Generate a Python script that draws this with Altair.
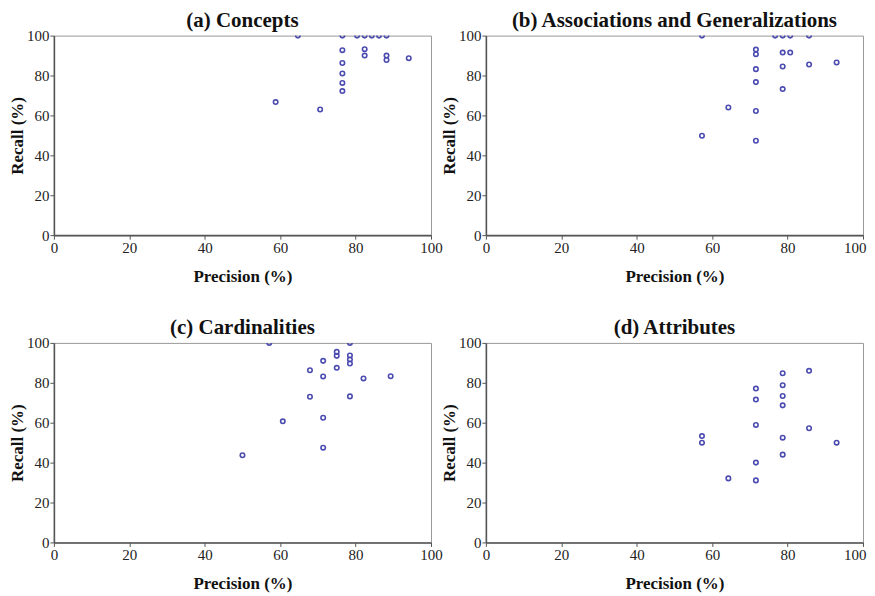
import altair as alt
import pandas as pd

# Panel (a) Concepts
a_prec = [64.7, 76.5, 76.5, 76.5, 76.5, 76.5, 76.5, 58.8, 70.6, 80.4, 82.4, 84.3, 86.2, 88.2, 82.4, 82.4, 88.2, 88.2, 94.1]
a_rec = [100, 100, 92.7, 86.3, 81.0, 76.3, 72.2, 66.7, 63.0, 100, 100, 100, 100, 100, 93.2, 90.0, 90.0, 87.8, 88.7]

# Panel (b) Associations and Generalizations
b_prec = [57.3, 76.7, 78.7, 80.7, 85.7, 71.6, 71.6, 71.6, 71.6, 71.6, 71.6, 64.3, 57.3, 78.7, 80.7, 78.7, 78.7, 85.7, 93.0]
b_rec = [100, 100, 100, 100, 100, 93.0, 90.7, 83.2, 76.7, 62.2, 47.3, 64.0, 49.8, 91.5, 91.5, 84.5, 73.2, 85.5, 86.5]

# Panel (c) Cardinalities
c_prec = [57.1, 78.5, 75.0, 75.0, 78.5, 78.5, 78.5, 71.4, 67.9, 75.0, 71.4, 82.1, 89.3, 67.9, 78.5, 71.4, 60.7, 71.4, 50.0]
c_rec = [100, 100, 95.5, 93.5, 93.7, 91.7, 89.7, 91.0, 86.3, 87.5, 83.2, 82.2, 83.3, 73.0, 73.2, 62.5, 60.7, 47.5, 43.7]

# Panel (d) Attributes
d_prec = [85.7, 78.7, 78.7, 78.7, 78.7, 71.6, 71.6, 71.6, 85.7, 57.3, 57.3, 78.7, 93.0, 78.7, 71.6, 64.3, 71.6]
d_rec = [86.0, 84.8, 78.8, 73.4, 68.7, 77.1, 71.6, 58.9, 57.2, 53.3, 50.0, 52.5, 50.0, 44.0, 40.0, 32.1, 31.1]

titles = ["(a) Concepts", "(b) Associations and Generalizations", "(c) Cardinalities", "(d) Attributes"]
ticks = [0, 20, 40, 60, 80, 100]

FONT = "Liberation Serif"


def panel(prec, rec, title, right_col):
    df = pd.DataFrame({"Precision": prec, "Recall": rec})
    xaxis_kw = dict(values=ticks, title="Precision (%)", labelFlush=False)
    if right_col:
        # keep the last label inside the page edge
        xaxis_kw["labelAlign"] = {"condition": {"test": "datum.value == 100", "value": "right"}, "value": "center"}
        xaxis_kw["labelOffset"] = {"condition": {"test": "datum.value == 100", "value": 3}, "value": 0}
    return (
        alt.Chart(df)
        .mark_point(shape="circle", filled=False, size=20, strokeWidth=1.6, color="#4b4bb0", clip=True, opacity=1)
        .encode(
            x=alt.X("Precision:Q", scale=alt.Scale(domain=[0, 100], nice=False),
                    axis=alt.Axis(**xaxis_kw)),
            y=alt.Y("Recall:Q", scale=alt.Scale(domain=[0, 100], nice=False),
                    axis=alt.Axis(values=ticks, title="Recall (%)", labelFlush=False)),
        )
        .properties(width=378, height=200,
                    title=alt.TitleParams(title, fontSize=21, font=FONT, fontWeight="bold", color="#111", offset=-2))
    )


charts = [panel(a_prec, a_rec, titles[0], False), panel(b_prec, b_rec, titles[1], True),
          panel(c_prec, c_rec, titles[2], False), panel(d_prec, d_rec, titles[3], True)]

chart = (
    alt.concat(*charts, columns=2, bounds="flush", spacing={"row": 108, "column": 55})
    .configure_view(stroke="#999", strokeWidth=1)
    .configure_axis(
        grid=False, domainColor="#555", domainWidth=1.6, tickColor="#555", tickSize=4,
        labelFont=FONT, labelFontSize=15, labelColor="#222", labelPadding=1,
        titleFont=FONT, titleFontSize=17, titleFontWeight="bold", titleColor="#111",
    )
    .configure_axisX(titlePadding=13)
    .configure_axisY(titlePadding=0)
    .properties(padding={"left": 0, "top": 0, "right": 0, "bottom": 0})
)

chart.save("out.html", embed_options={"renderer": "svg", "actions": False})
